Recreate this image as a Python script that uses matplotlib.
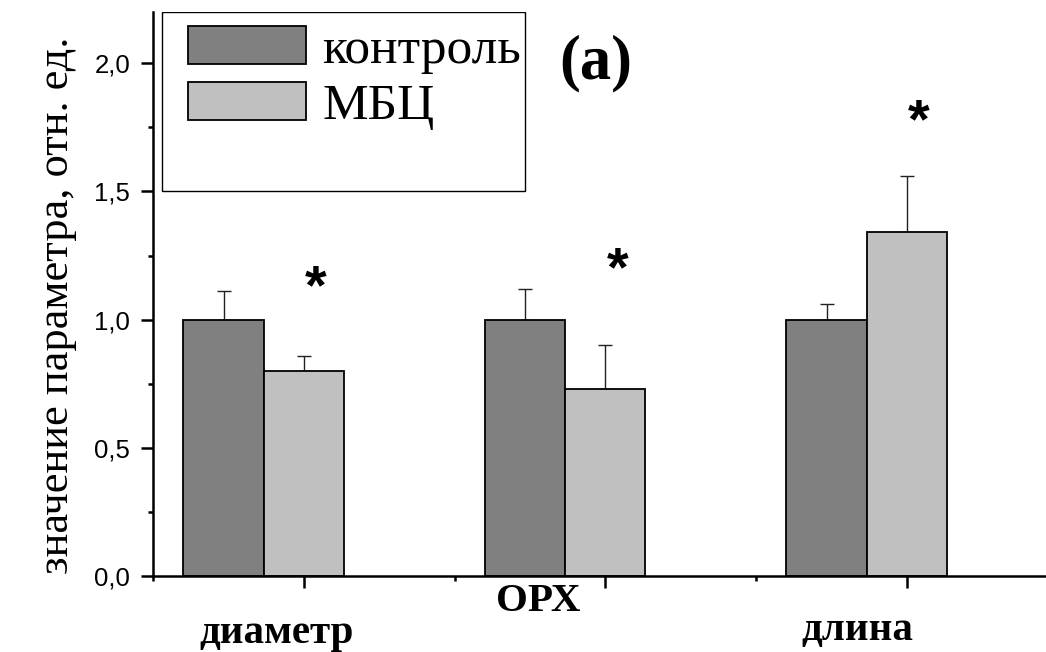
import numpy as np
import matplotlib
matplotlib.use('Agg')
import matplotlib.pyplot as plt
from matplotlib.patches import Rectangle

groups = ['диаметр', 'ОРХ', 'длина']
control = [1.0, 1.0, 1.0]
control_err = [0.113, 0.12, 0.06]
mbc = [0.80, 0.73, 1.342]
mbc_err = [0.06, 0.17, 0.218]
star_y = [1.12, 1.19, 1.765]

pos = np.array([1, 2, 3])
w = 0.266

fig = plt.figure(figsize=(10.46, 6.52), dpi=100)
ax = fig.add_axes([0.1463, 0.1166, 0.8647, 0.865])

ax.bar(pos - w, control, w, color='#808080', edgecolor='black', linewidth=1.3,
       label='контроль', zorder=2)
ax.bar(pos, mbc, w, color='#c0c0c0', edgecolor='black', linewidth=1.3,
       label='МБЦ', zorder=2)
ax.errorbar(pos - w, control, yerr=[np.zeros(3), control_err], fmt='none',
            ecolor='#222222', elinewidth=1.0, capsize=4.7, capthick=1.0, zorder=1)
ax.errorbar(pos, mbc, yerr=[np.zeros(3), mbc_err], fmt='none',
            ecolor='#222222', elinewidth=1.0, capsize=4.7, capthick=1.0, zorder=1)

for x, y in zip(pos, star_y):
    ax.text(x + 0.04, y, '*', ha='center', va='center', fontsize=40,
            fontweight='bold', family='Liberation Sans')

ax.set_xlim(0.5, 3.5)
ax.set_ylim(0, 2.2)
ax.set_xticks(pos)
ax.set_xticks([0.5, 1.5, 2.5, 3.5], minor=True)
ax.set_xticklabels([])
ax.set_yticks([0, 0.5, 1.0, 1.5, 2.0])
ax.set_yticks([0.25, 0.75, 1.25, 1.75], minor=True)
ax.set_yticklabels(['0,0', '0,5', '1,0', '1,5', '2,0'], family='Liberation Sans',
                   fontsize=18.5)
ax.tick_params(axis='both', which='major', length=8.5, width=1.8, pad=8)
ax.tick_params(axis='both', which='minor', length=3.6, width=1.8)
for s in ['top', 'right']:
    ax.spines[s].set_visible(False)
for s in ['left', 'bottom']:
    ax.spines[s].set_linewidth(1.8)

# category names under the axis
lab_x = [0.911, 1.777, 2.835]
lab_y = [-0.261, -0.136, -0.249]
for name, x, y in zip(groups, lab_x, lab_y):
    ax.text(x, y, name, ha='center', va='baseline', fontsize=29.5,
            fontweight='bold', family='Liberation Serif', clip_on=False)

ax.set_ylabel('значение параметра, отн. ед.', family='Liberation Serif',
              fontsize=32)
ax.yaxis.set_label_coords(-0.084, 0.48)

ax.add_patch(Rectangle((0.01, 0.683), 0.401, 0.317, transform=ax.transAxes,
                       fill=False, edgecolor='black', linewidth=1.0, zorder=3))
ax.legend(loc='upper left', bbox_to_anchor=(0.0387, 0.975), frameon=False,
          prop={'family': 'Liberation Serif', 'size': 37}, borderpad=0,
          borderaxespad=0, handlelength=2.3, handleheight=0.76,
          handletextpad=0.31, labelspacing=0.16)

ax.text(1.97, 2.0, '(a)', ha='center', va='center', fontsize=45,
        fontweight='bold', family='Liberation Serif')

fig.savefig('out.png', dpi=100)
